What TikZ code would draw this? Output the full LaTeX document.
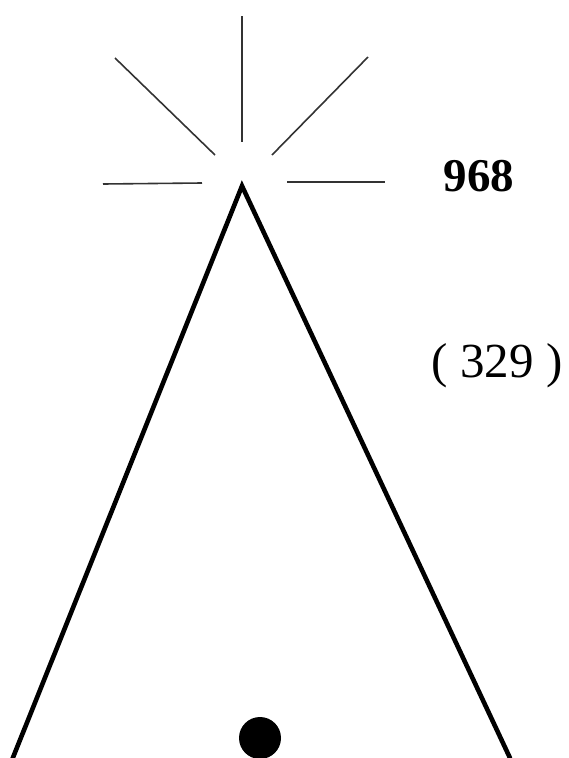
\documentclass[tikz,border=0pt]{standalone}
\usepackage{fontspec}
\setmainfont{Liberation Serif}
\usepackage{tikz}
\usetikzlibrary{positioning}

\begin{document}
\begin{tikzpicture}[x=1pt, y=-1pt,
      leg/.style={line width=4.6pt, line cap=round},
      ray/.style={line width=1.6pt, draw=black!80},
      label/.style={inner sep=0pt, font=\fontsize{46}{52}\selectfont}
    ]
      \useasboundingbox (0,0) rectangle (568,758);

      % the peak and its two sides
      \coordinate (apex) at (242,186);
      \coordinate (lfoot) at (12,760);
      \coordinate (rfoot) at (510,758);
      \draw[leg, line join=miter] (lfoot) -- (apex) -- (rfoot);

      % rays round the peak
      \coordinate (rayN1) at (242,16);   \coordinate (rayN2) at (242,142);
      \coordinate (rayNW1) at (115,58);  \coordinate (rayNW2) at (215,155);
      \coordinate (rayNE1) at (368,57);  \coordinate (rayNE2) at (272,155);
      \coordinate (rayW1) at (103,184);  \coordinate (rayW2) at (202,183);
      \coordinate (rayE1) at (287,182);  \coordinate (rayE2) at (385,182);
      \draw[ray] (rayN1) -- (rayN2);
      \draw[ray] (rayNW1) -- (rayNW2);
      \draw[ray] (rayNE1) -- (rayNE2);
      \draw[ray] (rayW1) -- (rayW2);
      \draw[ray] (rayE1) -- (rayE2);

      \node[label, font=\fontsize{47}{52}\selectfont\bfseries] (height) at (479,176) {968};
      \node[label, font=\fontsize{49}{54}\selectfont] (depth) at (497,366) {( 329 )};

      \fill (260,738) circle (21);
    \end{tikzpicture}
\end{document}
